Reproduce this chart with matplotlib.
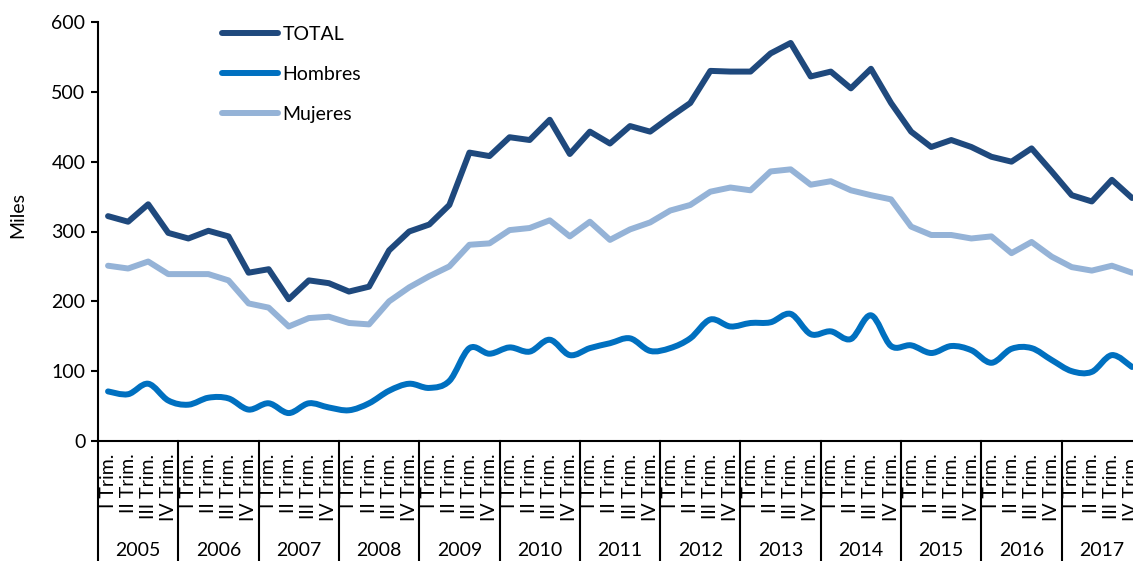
import matplotlib.pyplot as plt
import numpy as np
from matplotlib.path import Path
from matplotlib.patches import PathPatch

plt.rcParams['font.family'] = ['Lato', 'DejaVu Sans']

years = [str(y) for y in range(2005, 2018)]
quarters = ['I Trim.', 'II Trim.', 'III Trim.', 'IV Trim.']

total = [322, 314, 339, 298, 290, 301, 293, 241, 246, 203, 230, 226,
         214, 221, 273, 300, 310, 338, 413, 408, 435, 431, 460, 411,
         443, 426, 451, 443, 464, 484, 530, 529, 529, 555, 570, 522,
         529, 505, 533, 484, 443, 421, 431, 421, 407, 400, 419, 386,
         352, 343, 374, 348]
hombres = [71, 67, 82, 58, 52, 62, 61, 45, 54, 40, 54, 48,
           44, 54, 72, 82, 76, 86, 133, 125, 134, 128, 145, 123,
           133, 140, 147, 129, 133, 147, 174, 164, 169, 170, 182, 153,
           157, 146, 180, 136, 137, 126, 136, 130, 112, 132, 133, 116,
           100, 99, 123, 106]
mujeres = [251, 247, 257, 239, 239, 239, 230, 197, 191, 164, 176, 178,
           169, 167, 200, 220, 236, 250, 281, 283, 302, 305, 316, 293,
           314, 288, 303, 313, 330, 338, 357, 363, 359, 386, 389, 367,
           372, 359, 352, 346, 307, 295, 295, 290, 293, 269, 285, 264,
           249, 244, 251, 241]

c_total = '#1f497d'
c_hom = '#0070c0'
c_muj = '#95b3d7'

W, H = 1133, 561
fig = plt.figure(figsize=(W / 100, H / 100), dpi=100)
ax = fig.add_axes([98 / W, 120 / H, 1044 / W, 419 / H])

x = np.arange(len(total))
lw = 4.3

# TOTAL
ax.plot(x, total, color=c_total, lw=lw, solid_joinstyle='round',
        solid_capstyle='round', label='TOTAL')

# Hombres: linea suavizada (curva bezier entre los puntos)
hy = np.array(hombres, dtype=float)
verts = [(x[0], hy[0])]
codes = [Path.MOVETO]
n = len(hy)
for i in range(n - 1):
    p0 = np.array([x[max(i - 1, 0)], hy[max(i - 1, 0)]])
    p1 = np.array([x[i], hy[i]])
    p2 = np.array([x[i + 1], hy[i + 1]])
    p3 = np.array([x[min(i + 2, n - 1)], hy[min(i + 2, n - 1)]])
    c1 = p1 + (p2 - p0) / 6
    c2 = p2 - (p3 - p1) / 6
    verts += [tuple(c1), tuple(c2), tuple(p2)]
    codes += [Path.CURVE4] * 3
patch = PathPatch(Path(verts, codes), facecolor='none', edgecolor=c_hom,
                  lw=lw, capstyle='round', joinstyle='round')
ax.add_patch(patch)
ax.plot([], [], color=c_hom, lw=lw, solid_capstyle='round', label='Hombres')

# Mujeres
ax.plot(x, mujeres, color=c_muj, lw=lw, solid_joinstyle='round',
        solid_capstyle='round', label='Mujeres')

ax.set_xlim(-0.5, len(total) - 0.5)
ax.set_ylim(0, 600)
ax.set_yticks(range(0, 601, 100))
ax.tick_params(axis='y', labelsize=14, length=5, width=1.5, direction='out', pad=4)

labels = quarters * len(years)
ax.set_xticks(x)
ax.set_xticklabels(labels, rotation=90, fontsize=14)
ax.tick_params(axis='x', length=0, pad=9)

ax.spines['top'].set_visible(False)
ax.spines['right'].set_visible(False)
ax.spines['left'].set_linewidth(1.5)
ax.spines['bottom'].set_linewidth(1.5)

# divisiones de los años
trans = ax.get_xaxis_transform()
for k in range(len(years) + 1):
    xb = -0.5 + 4 * k
    ax.plot([xb, xb], [0, -0.35], color='black', lw=1.5,
            transform=trans, clip_on=False)
for k, yr in enumerate(years):
    ax.text(1.5 + 4 * k, -0.2625, yr, transform=trans, ha='center',
            va='center', fontsize=14)

fig.text(18 / W, 1 - 215 / H, 'Miles', rotation=90, ha='center',
         va='center', fontsize=14)

ax.legend(loc='upper left', bbox_to_anchor=(222 / W, 1 - 26 / H),
          bbox_transform=fig.transFigure, frameon=False, fontsize=14,
          handlelength=2.9, handletextpad=0.2, labelspacing=1.18,
          borderpad=0, borderaxespad=0)

fig.savefig('out.png', dpi=100)
